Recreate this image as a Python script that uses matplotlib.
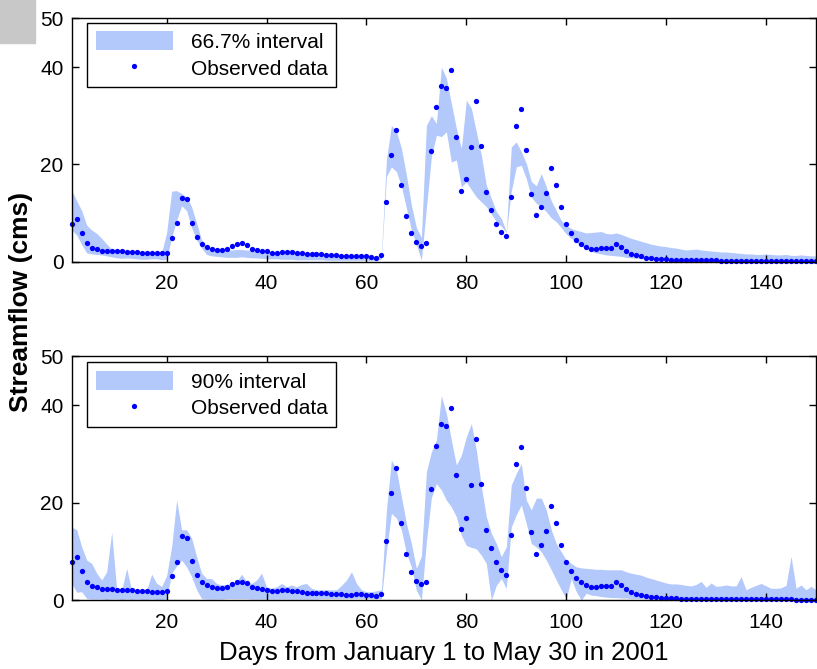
import numpy as np
import matplotlib
matplotlib.use('Agg')
import matplotlib.pyplot as plt
from matplotlib.patches import Rectangle

plt.rcParams['font.family'] = ['Liberation Sans', 'DejaVu Sans']

# Daily streamflow, Jan 1 - May 30 2001 (cms)
days = np.arange(1, 151)

observed = [
    7.8, 8.8, 6.0, 3.8, 2.9, 2.6, 2.3, 2.2, 2.2, 2.1,
    2.1, 2.0, 2.0, 1.9, 1.8, 1.8, 1.7, 1.7, 1.7, 1.8,
    4.9, 7.9, 13.1, 12.8, 8.0, 5.1, 3.7, 3.1, 2.7, 2.4,
    2.4, 2.7, 3.2, 3.6, 3.8, 3.4, 2.7, 2.4, 2.2, 2.1,
    1.8, 1.8, 2.0, 2.0, 1.9, 1.8, 1.7, 1.5, 1.5, 1.5,
    1.5, 1.4, 1.3, 1.3, 1.2, 1.1, 1.1, 1.2, 1.2, 1.1,
    1.0, 0.8, 1.3, 12.2, 22.0, 27.0, 15.7, 9.4, 5.8, 4.0,
    3.2, 3.8, 22.7, 31.7, 36.1, 35.6, 39.4, 25.7, 14.5, 16.9,
    23.5, 33.0, 23.8, 14.4, 10.6, 7.8, 6.1, 5.2, 13.3, 27.9,
    31.4, 23.0, 13.9, 9.5, 11.2, 14.2, 19.3, 15.7, 11.2, 7.8,
    5.9, 4.5, 3.7, 3.1, 2.7, 2.6, 2.9, 2.9, 2.9, 3.6,
    3.1, 2.2, 1.6, 1.3, 1.1, 0.8, 0.7, 0.65, 0.5, 0.5,
    0.4, 0.35, 0.3, 0.3, 0.3, 0.3, 0.25, 0.25, 0.25, 0.25,
    0.2, 0.2, 0.2, 0.2, 0.2, 0.2, 0.2, 0.2, 0.2, 0.2,
    0.15, 0.15, 0.15, 0.15, 0.15, 0.1, 0.1, 0.1, 0.1, 0.1,
]

# 66.7% prediction interval
lo67 = [
    6.5, 5.5, 3.5, 1.8, 1.6, 1.5, 1.4, 1.2, 1.0, 0.8,
    0.7, 0.8, 0.7, 0.6, 0.5, 0.5, 0.6, 0.6, 0.4, 0.5,
    5.0, 8.5, 11.5, 10.5, 7.0, 4.5, 2.8, 1.5, 1.2, 1.1,
    1.0, 0.9, 0.9, 0.9, 1.0, 0.9, 0.8, 0.8, 0.7, 0.6,
    0.6, 0.6, 0.5, 0.5, 0.5, 0.4, 0.4, 0.4, 0.4, 0.4,
    0.4, 0.3, 0.3, 0.3, 0.3, 0.3, 0.3, 0.3, 0.3, 0.3,
    0.3, 0.3, 0.5, 17.5, 19.5, 18.5, 15.5, 11.0, 6.5, 3.5,
    0.3, 11.0, 21.6, 26.0, 25.7, 26.7, 20.5, 20.9, 15.4, 16.4,
    14.8, 13.3, 12.3, 11.3, 9.8, 8.2, 7.3, 6.0, 14.5, 19.5,
    19.8, 17.1, 13.3, 12.0, 11.3, 10.3, 9.0, 8.2, 7.0, 5.7,
    4.8, 4.0, 3.2, 2.6, 2.1, 1.8, 1.6, 1.4, 1.3, 1.2,
    1.1, 0.9, 0.8, 0.7, 0.6, 0.5, 0.4, 0.35, 0.3, 0.25,
    0.2, 0.2, 0.2, 0.2, 0.2, 0.2, 0.2, 0.2, 0.2, 0.2,
    0.15, 0.15, 0.15, 0.15, 0.15, 0.15, 0.15, 0.15, 0.15, 0.15,
    0.1, 0.1, 0.1, 0.1, 0.1, 0.1, 0.1, 0.1, 0.1, 0.1,
]
hi67 = [
    14.7, 12.5, 10.5, 7.5, 6.5, 5.8, 4.8, 3.6, 2.6, 2.4,
    2.3, 2.3, 2.2, 2.2, 2.0, 2.0, 2.0, 1.9, 1.9, 6.0,
    14.5, 14.6, 14.0, 13.3, 11.3, 7.9, 4.5, 3.2, 2.8, 2.6,
    2.5, 2.4, 2.4, 2.5, 2.5, 2.4, 2.3, 2.2, 2.1, 2.0,
    1.9, 1.9, 1.8, 1.8, 1.7, 1.7, 1.6, 1.6, 1.5, 1.5,
    1.5, 1.4, 1.4, 1.4, 1.3, 1.3, 1.3, 1.2, 1.2, 1.2,
    1.2, 1.1, 1.5, 21.0, 28.0, 26.7, 23.3, 17.8, 11.6, 7.0,
    5.0, 28.0, 30.0, 28.4, 40.0, 37.7, 32.5, 27.4, 23.3, 33.2,
    31.5, 26.7, 21.9, 15.7, 13.0, 10.3, 8.9, 6.2, 23.6, 24.6,
    22.6, 20.2, 16.5, 15.6, 18.1, 15.4, 12.5, 10.5, 8.5, 7.5,
    6.8, 6.5, 6.2, 5.9, 6.0, 6.1, 6.2, 5.8, 5.7, 5.9,
    5.6, 5.2, 4.8, 4.5, 4.2, 3.9, 3.6, 3.4, 3.2, 3.1,
    2.9, 2.8, 2.6, 2.4, 2.5, 2.6, 2.4, 2.3, 2.2, 2.1,
    2.0, 2.0, 1.9, 1.8, 1.7, 1.6, 1.6, 1.5, 1.5, 1.6,
    1.5, 1.4, 1.4, 1.5, 1.3, 1.3, 1.4, 1.3, 1.2, 1.2,
]

# 90% prediction interval
lo90 = [
    3.4, 1.6, 1.7, 0.3, 0.2, 0.2, 0.2, 0.1, 0.2, 0.2,
    0.1, 0.2, 0.1, 0.2, 0.1, 0.1, 0.2, 0.1, 0.1, 0.2,
    5.5, 7.0, 8.2, 6.8, 4.8, 2.1, 0.3, 0.2, 0.2, 0.2,
    0.2, 0.3, 0.3, 0.3, 0.3, 0.3, 0.2, 0.2, 0.2, 0.2,
    0.2, 0.2, 0.2, 0.2, 0.2, 0.2, 0.2, 0.2, 0.2, 0.2,
    0.3, 0.3, 0.3, 0.3, 0.3, 0.3, 0.3, 0.3, 0.3, 0.3,
    0.3, 0.3, 0.3, 10.0, 17.8, 16.8, 14.4, 9.6, 6.8, 2.0,
    0.0, 12.0, 21.0, 23.9, 22.6, 20.5, 19.1, 17.1, 13.3, 11.2,
    10.8, 10.5, 9.2, 7.5, 0.0, 3.0, 4.4, 2.4, 15.0, 17.5,
    19.5, 15.7, 11.6, 10.9, 9.9, 8.2, 6.2, 4.1, 2.1, 0.3,
    4.4, 1.7, 0.0, 1.4, 1.0, 0.9, 0.7, 0.6, 0.5, 0.5,
    0.4, 0.4, 0.3, 0.3, 0.3, 0.2, 0.2, 0.2, 0.2, 0.2,
    0.1, 0.1, 0.1, 0.1, 0.1, 0.1, 0.1, 0.1, 0.1, 0.1,
    0.1, 0.1, 0.1, 0.1, 0.1, 0.1, 0.1, 0.1, 0.1, 0.1,
    0.1, 0.1, 0.1, 0.1, 0.1, 0.1, 0.1, 0.1, 0.1, 0.1,
]
hi90 = [
    15.0, 14.4, 10.9, 8.2, 7.5, 5.5, 4.1, 5.8, 13.9, 2.1,
    2.0, 6.5, 2.0, 1.9, 1.9, 2.1, 5.3, 3.4, 2.8, 5.0,
    10.9, 20.5, 14.4, 14.4, 12.7, 8.9, 5.5, 4.4, 4.4, 3.4,
    3.1, 3.2, 3.4, 3.8, 5.3, 3.8, 3.4, 4.1, 5.5, 2.7,
    2.4, 2.7, 3.4, 2.7, 3.1, 2.7, 3.2, 3.4, 2.4, 2.1,
    2.1, 2.1, 2.1, 2.1, 3.0, 4.1, 5.8, 3.4, 2.1, 1.7,
    1.7, 1.9, 2.1, 18.5, 28.7, 26.7, 21.2, 15.7, 11.6, 6.5,
    9.0, 26.3, 30.4, 32.8, 41.9, 38.3, 32.8, 27.7, 29.7, 33.5,
    36.2, 30.8, 23.3, 17.1, 13.7, 11.6, 8.9, 10.9, 23.6, 26.0,
    28.0, 20.5, 18.5, 20.9, 20.9, 18.5, 14.4, 11.6, 9.9, 8.2,
    7.5, 6.8, 6.6, 6.5, 6.4, 6.3, 6.3, 6.2, 6.2, 6.2,
    6.2, 5.8, 5.5, 5.3, 5.1, 4.7, 4.4, 4.1, 3.8, 3.5,
    3.3, 3.3, 3.2, 3.0, 2.9, 3.2, 3.8, 2.6, 3.5, 2.8,
    2.9, 3.1, 2.9, 2.9, 4.8, 2.1, 2.6, 3.0, 3.4, 2.9,
    2.4, 2.4, 2.5, 3.0, 9.0, 2.4, 3.1, 2.1, 2.8, 2.1,
]

band_color = '#b3c8fb'
dot_color = '#0000ff'

fig = plt.figure(figsize=(8.17, 6.69), dpi=100)
ax_top = fig.add_axes([0.0878, 0.6088, 0.9110, 0.3638])
ax_bot = fig.add_axes([0.0878, 0.1031, 0.9110, 0.3643])

panels = [
    (ax_top, lo67, hi67, '66.7% interval', 0.982),
    (ax_bot, lo90, hi90, '90% interval', 0.975),
]

for ax, lo, hi, label, leg_top in panels:
    ax.fill_between(days, lo, hi, color=band_color, linewidth=0, label=label)
    ax.plot(days, observed, 'o', color=dot_color, markersize=3.8,
            markeredgewidth=0, label='Observed data', clip_on=False)
    ax.set_xlim(1, 150)
    ax.set_ylim(0, 50)
    ax.set_xticks([20, 40, 60, 80, 100, 120, 140])
    ax.set_yticks([0, 20, 40, 50])
    ax.tick_params(direction='in', top=True, right=True, length=5,
                   width=1, labelsize=15)
    ax.tick_params(axis='x', pad=9)
    ax.tick_params(axis='y', pad=6)
    for sp in ax.spines.values():
        sp.set_linewidth(1)
    leg = ax.legend(loc='upper left', bbox_to_anchor=(0.0206, leg_top),
                    borderaxespad=0, fontsize=15, numpoints=1,
                    handlelength=3.7, handleheight=1.0, handletextpad=0.85,
                    labelspacing=0.3, borderpad=0.42, fancybox=False,
                    framealpha=1)
    leg.get_frame().set_edgecolor('black')
    leg.get_frame().set_linewidth(1)

fig.text(0.026, 0.549, 'Streamflow (cms)', rotation=90, fontsize=19,
         fontweight='bold', ha='center', va='center')
ax_bot.set_xlabel('Days from January 1 to May 30 in 2001', fontsize=18.5,
                  labelpad=7)

# grey block in the upper left corner
fig.patches.append(Rectangle((0, 1 - 43 / 669), 35 / 817, 43 / 669,
                             transform=fig.transFigure, color='#c8c8c8',
                             zorder=0))

fig.savefig('out.png', dpi=100)
